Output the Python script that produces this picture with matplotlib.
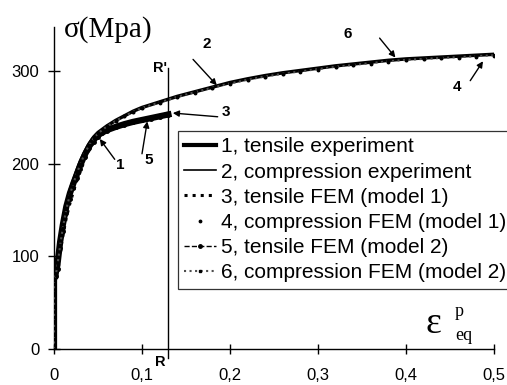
import numpy as np
import matplotlib
matplotlib.use('Agg')
import matplotlib.pyplot as plt

plt.rcParams['font.family'] = ['Liberation Sans', 'DejaVu Sans']

# plastic strain grids (first points: elastic part, zero plastic strain)
eps_t = [0, 0, 0, 0, 0, 0, 0.002, 0.004, 0.007, 0.010, 0.014, 0.018, 0.022, 0.026, 0.030, 0.035,
         0.040, 0.045, 0.050, 0.055, 0.060, 0.070, 0.080, 0.090, 0.100, 0.110, 0.120, 0.130]
eps_c = [0, 0, 0, 0, 0, 0, 0.002, 0.004, 0.007, 0.010, 0.014, 0.018, 0.022, 0.026, 0.030, 0.035,
         0.040, 0.045, 0.050, 0.060, 0.070, 0.080, 0.090, 0.100, 0.12, 0.14, 0.16, 0.18, 0.20, 0.22,
         0.24, 0.26, 0.28, 0.30, 0.32, 0.34, 0.36, 0.38, 0.40, 0.42, 0.44, 0.46, 0.48, 0.50]

# stresses, MPa
sig_tens_exp = [0, 15, 30, 45, 60, 75, 82, 92, 116, 134, 154, 168, 179, 189, 199, 210, 219, 226,
                231, 234, 236.5, 240, 243, 245.5, 247.5, 249.5, 251.5, 253.5]
sig_comp_exp = [0, 15, 30, 45, 60, 75, 83, 95, 118, 137, 156, 171, 182, 193, 203, 213, 222, 229,
                234, 241, 247, 252, 257, 261, 267, 273, 278, 283, 288, 292, 295.5, 298.5, 301, 303.5,
                306, 308, 310, 312, 313.5, 314.5, 315.5, 316.5, 317.5, 318.5]
sig_tens_fem1 = [0, 15, 30, 45, 60, 75, 77, 84, 104, 122, 142, 157, 170, 182, 192, 205, 215, 223,
                 228.5, 232.5, 235.5, 239.5, 243, 245.5, 248, 250, 252.5, 255]
sig_comp_fem1 = [0, 15, 30, 45, 60, 75, 78, 88, 107, 126, 146, 162, 176, 187, 197.5, 210, 219.5,
                 227, 233, 240.5, 246.5, 251.5, 256, 260, 266, 272, 277, 282, 286.5, 290.5, 294, 297,
                 299.5, 302, 304.5, 306.5, 308.5, 310.5, 312, 313, 314, 315, 316, 317]
sig_tens_fem2 = [0, 15, 30, 45, 60, 75, 79, 87, 109, 127, 147, 162, 174, 185, 195, 207, 217, 224,
                 229.5, 233, 235.5, 239.5, 242.5, 245, 247, 249, 251, 253]
sig_comp_fem2 = [0, 15, 30, 45, 60, 75, 80, 91, 112, 131, 151, 166.5, 179, 190, 200, 211.5, 220.5,
                 227.5, 233, 240.5, 246.5, 251.5, 256.5, 260.5, 266.5, 272.5, 277.5, 282.5, 287,
                 291, 294.5, 297.5, 300, 302.5, 305, 307, 309, 311, 312.5, 313.5, 314.5, 315.5,
                 316.5, 317.5]

labels = ['1, tensile experiment', '2, compression experiment', '3, tensile FEM (model 1)',
          '4, compression FEM (model 1)', '5, tensile FEM (model 2)', '6, compression FEM (model 2)']
x_ticks = [0, 0.1, 0.2, 0.3, 0.4, 0.5]
x_tick_labels = ['0', '0,1', '0,2', '0,3', '0,4', '0,5']
y_ticks = [0, 100, 200, 300]
y_tick_labels = ['0', '100', '200', '300']
eps_R = 0.13

W, H = 507, 385
fig = plt.figure(figsize=(W / 100, H / 100), dpi=100)
ax = fig.add_axes([54 / W, 1 - 349 / H, 440 / W, 322 / H])

ax.plot(eps_t, sig_tens_exp, '-', color='k', lw=4.5, label=labels[0], zorder=3)
ax.plot(eps_c, sig_comp_exp, '-', color='k', lw=2.5, label=labels[1], zorder=3)
ax.plot(eps_t, sig_tens_fem1, ':', color='k', lw=2.2, label=labels[2], zorder=4)
ax.plot(eps_c, sig_comp_fem1, '.', color='k', ms=3.5, label=labels[3], zorder=4)
ax.plot(eps_t, sig_tens_fem2, '--', color='k', lw=1, marker='o', ms=2.5, label=labels[4], zorder=4)
ax.plot(eps_c, sig_comp_fem2, ':', color='0.3', lw=1.5, marker='s', ms=2, mfc='k', mec='k',
        label=labels[5], zorder=4)

# R / R' line
ax.plot([eps_R, eps_R], [-10, 304], color='k', lw=1, clip_on=False, zorder=2)
ax.text(eps_R - 0.002, 304, "R'", ha='right', va='center', fontsize=10.5, fontweight='bold')
ax.text(eps_R - 0.003, -14, 'R', ha='right', va='center', fontsize=10.5, fontweight='bold')

# curve call-outs: (label, text pos, arrow tail, arrow tip)
callouts = [('1', (0.075, 199), (0.069, 205), (0.052, 227)),
            ('5', (0.108, 204), (0.100, 211), (0.106, 246)),
            ('3', (0.195, 256), (0.186, 251), (0.135, 255)),
            ('2', (0.174, 330), (0.158, 313), (0.185, 285)),
            ('6', (0.334, 340), (0.370, 336), (0.388, 315)),
            ('4', (0.458, 283), (0.473, 290), (0.4875, 311))]
for txt, tpos, tail, tip in callouts:
    ax.text(*tpos, txt, ha='center', va='center', fontsize=11, fontweight='bold')
    ax.annotate('', xy=tip, xytext=tail,
                arrowprops=dict(arrowstyle='-|>', lw=1, color='k', mutation_scale=9,
                                shrinkA=0, shrinkB=0))

ax.set_xlim(0, 0.5)
ax.set_ylim(0, 348)
ax.set_xticks(x_ticks, x_tick_labels)
ax.set_yticks(y_ticks, y_tick_labels)
ax.tick_params(direction='inout', width=1, labelsize=12)
ax.tick_params(axis='x', length=7, pad=10)
ax.tick_params(axis='y', length=9, pad=6)
for s in ['top', 'right']:
    ax.spines[s].set_visible(False)
for s in ['left', 'bottom']:
    ax.spines[s].set_linewidth(1)

fig.text(64 / W, 1 - 30 / H, 'σ(Mpa)', ha='left', va='center', fontsize=21, family='Liberation Serif')
fig.text(433 / W, 1 - 324 / H, 'ε', ha='center', va='center', fontsize=27, family='Liberation Serif')
fig.text(455 / W, 1 - 311 / H, 'p', ha='left', va='center', fontsize=13, family='Liberation Serif')
fig.text(455 / W, 1 - 336 / H, 'eq', ha='left', va='center', fontsize=13, family='Liberation Serif')

leg = ax.legend(loc='upper left', bbox_to_anchor=(178 / W, 1 - 131 / H), bbox_transform=fig.transFigure,
                borderaxespad=0, fontsize=15, frameon=True, fancybox=False, handlelength=1.5,
                handletextpad=0.25, labelspacing=0.3, borderpad=0.3, markerscale=1)
leg.get_frame().set_edgecolor('k')
leg.get_frame().set_linewidth(0.9)
leg.get_lines()[1].set_linewidth(1.2)
leg.get_lines()[0].set_linewidth(3)

fig.savefig('out.png', dpi=100)
